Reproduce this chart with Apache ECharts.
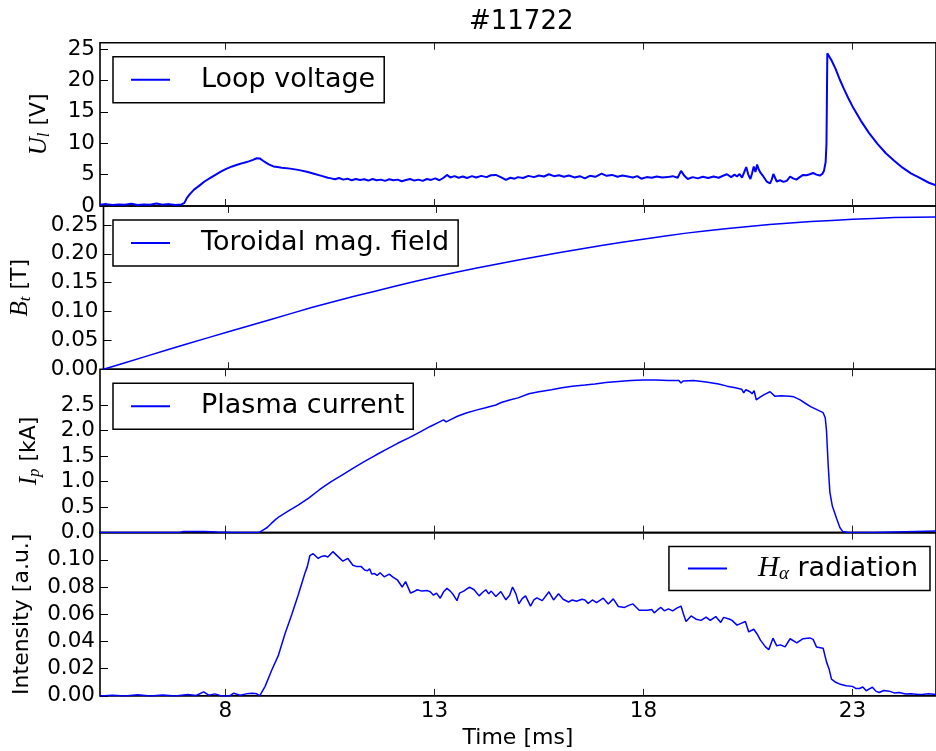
<!DOCTYPE html>
<html>
<head>
<meta charset="utf-8">
<script src="https://cdn.jsdelivr.net/npm/echarts@6/dist/echarts.min.js"></script>
<style>html,body{margin:0;padding:0;background:#fff;}#chart{width:936px;height:751px;}</style>
</head>
<body>
<div id="chart"></div>
<script>
// ---------- data (time in ms, value) ----------
const xTicks = [8, 13, 18, 23];
const yTicksU = [0, 5, 10, 15, 20, 25];
const yTicksB = [0, 0.05, 0.10, 0.15, 0.20, 0.25];
const yTicksI = [0, 0.5, 1.0, 1.5, 2.0, 2.5];
const yTicksH = [0, 0.02, 0.04, 0.06, 0.08, 0.10];

const loopVoltage = [
[5.0,0.2],[5.15,0.3],[5.3,0.15],[5.45,0.25],[5.6,0.2],[5.75,0.35],[5.9,0.15],[6.05,0.25],[6.2,0.2],[6.35,0.4],
[6.5,0.2],[6.65,0.3],[6.8,0.15],[6.95,0.25],[7.02,0.5],[7.08,1.3],[7.15,1.9],[7.25,2.6],[7.37,3.2],[7.5,3.9],
[7.62,4.4],[7.77,5.0],[7.9,5.5],[8.02,5.9],[8.16,6.3],[8.3,6.6],[8.45,6.9],[8.56,7.1],[8.66,7.35],[8.75,7.6],[8.83,7.55],
[8.9,7.2],[8.97,6.9],[9.05,6.6],[9.15,6.3],[9.25,6.2],[9.35,6.1],[9.55,5.95],[9.74,5.75],[9.95,5.45],[10.14,5.1],
[10.3,4.8],[10.45,4.5],[10.53,4.4],[10.62,4.25],[10.72,4.45],[10.82,4.2],[10.92,4.35],[11.02,4.1],[11.12,4.3],[11.22,4.15],
[11.32,4.25],[11.42,4.05],[11.52,4.3],[11.62,4.1],[11.72,4.2],[11.82,4.0],[11.92,4.25],[12.02,4.1],[12.12,4.2],[12.22,3.95],
[12.32,4.15],[12.42,4.3],[12.52,4.05],[12.62,4.2],[12.72,4.0],[12.82,4.3],[12.92,4.15],[13.02,4.4],[13.12,4.1],[13.22,4.5],
[13.3,4.95],[13.38,4.55],[13.48,4.75],[13.58,4.5],[13.68,4.7],[13.78,4.45],[13.9,4.75],[14.0,4.55],[14.12,4.8],[14.25,4.6],
[14.35,4.9],[14.47,4.95],[14.6,4.55],[14.71,4.15],[14.82,4.5],[14.92,4.35],[15.0,4.6],[15.12,4.45],[15.25,4.8],[15.38,4.6],
[15.5,4.85],[15.62,4.7],[15.74,5.05],[15.86,4.75],[15.98,4.9],[16.1,4.65],[16.22,4.85],[16.35,4.55],[16.48,4.75],[16.6,4.4],
[16.72,4.8],[16.85,4.65],[17.0,5.15],[17.12,4.8],[17.25,4.95],[17.38,4.65],[17.5,4.85],[17.63,4.7],[17.75,4.55],[17.85,4.75],
[17.95,4.35],[18.08,4.6],[18.2,4.5],[18.32,4.7],[18.45,4.55],[18.58,4.6],[18.7,4.75],[18.82,4.5],[18.9,5.6],[18.98,4.8],
[19.06,4.3],[19.18,4.6],[19.3,4.4],[19.42,4.65],[19.55,4.45],[19.68,4.7],[19.8,4.5],[19.92,4.85],[20.0,5.05],[20.1,4.6],
[20.18,5.0],[20.24,4.7],[20.3,5.1],[20.36,4.5],[20.4,4.2],[20.46,6.2],[20.51,5.0],[20.56,4.3],[20.6,5.2],[20.64,6.3],
[20.68,5.4],[20.72,6.6],[20.76,5.8],[20.8,5.3],[20.87,4.7],[20.95,3.9],[21.03,3.6],[21.07,4.2],[21.11,5.1],[21.15,4.5],
[21.19,3.9],[21.27,4.1],[21.35,3.85],[21.43,4.0],[21.51,4.7],[21.58,4.4],[21.66,4.2],[21.74,4.6],[21.82,4.95],[21.9,4.9],
[21.98,5.05],[22.06,5.25],[22.14,5.0],[22.22,4.85],[22.28,5.1],[22.32,5.6],[22.36,7.0],[22.38,9.9],[22.4,24.3],[22.42,24.2],
[22.5,23.2],[22.6,21.8],[22.7,20.1],[22.8,18.6],[22.9,17.2],[23.0,15.9],[23.2,13.6],[23.4,11.6],[23.6,9.9],[23.8,8.4],
[24.0,7.2],[24.2,6.1],[24.4,5.2],[24.6,4.5],[24.83,3.7],[25.0,3.3]
];

const toroidalField = [
[5,0],[5.5,0.011],[6,0.022],[6.5,0.033],[7,0.044],[7.5,0.0545],[8,0.065],[8.5,0.0755],[9,0.086],[9.5,0.0965],
[10,0.107],[10.5,0.1165],[11,0.126],[11.5,0.135],[12,0.144],[12.5,0.1525],[13,0.161],[13.5,0.1685],[14,0.176],[14.5,0.183],
[15,0.190],[15.5,0.1965],[16,0.203],[16.5,0.209],[17,0.215],[17.5,0.2205],[18,0.226],[18.5,0.231],[19,0.236],[19.5,0.240],
[20,0.244],[20.5,0.2475],[21,0.251],[21.5,0.2535],[22,0.256],[22.5,0.258],[23,0.260],[23.5,0.2615],[24,0.263],[24.5,0.2635],[25,0.264]
];

const plasmaCurrent = [
[5.0,0],[6.9,0],[7.0,0.02],[7.5,0.02],[7.8,0.01],[8.2,0],[8.8,0],[8.9,0.05],[9.0,0.1],[9.1,0.18],
[9.19,0.25],[9.3,0.32],[9.5,0.42],[9.74,0.54],[10.0,0.68],[10.25,0.84],[10.53,1.0],[10.8,1.13],[11.05,1.26],[11.32,1.39],
[11.6,1.52],[11.85,1.63],[12.12,1.75],[12.4,1.86],[12.65,1.97],[12.9,2.08],[13.1,2.16],[13.22,2.21],[13.28,2.17],[13.4,2.22],
[13.55,2.28],[13.78,2.35],[14.0,2.40],[14.2,2.44],[14.47,2.5],[14.6,2.55],[14.8,2.6],[15.0,2.64],[15.26,2.72],[15.5,2.76],
[15.8,2.8],[16.05,2.84],[16.3,2.87],[16.6,2.89],[16.84,2.91],[17.1,2.94],[17.4,2.96],[17.7,2.98],[18.0,2.99],[18.3,2.99],
[18.6,2.98],[18.85,2.98],[18.9,2.93],[18.95,2.97],[19.2,2.98],[19.5,2.95],[19.8,2.91],[20.0,2.87],[20.2,2.84],[20.35,2.81],
[20.4,2.74],[20.45,2.8],[20.55,2.76],[20.6,2.72],[20.65,2.78],[20.7,2.6],[20.8,2.66],[20.9,2.71],[21.03,2.76],[21.15,2.67],
[21.3,2.68],[21.5,2.67],[21.6,2.66],[21.75,2.6],[21.9,2.52],[22.0,2.47],[22.15,2.41],[22.3,2.35],[22.35,2.25],[22.38,2.0],
[22.42,1.33],[22.46,0.8],[22.52,0.52],[22.62,0.28],[22.7,0.1],[22.77,0.02],[22.9,0],[23.5,0],[24.0,0.01],[24.5,0.02],[25.0,0.03]
];

const hAlpha = [
[5.0,0],[5.3,0.0005],[5.6,0],[5.9,0.0008],[6.2,0],[6.5,0.0006],[6.8,0],[7.1,0.001],[7.3,0.0003],[7.48,0.003],
[7.6,0.0005],[7.75,0.0015],[7.9,0],[8.1,0],[8.2,0.002],[8.35,0.0005],[8.5,0.0015],[8.65,0.002],[8.75,0.0015],[8.82,0],
[8.95,0.007],[9.11,0.019],[9.27,0.030],[9.43,0.046],[9.59,0.060],[9.74,0.074],[9.9,0.090],[9.96,0.095],[10.02,0.103],[10.1,0.1045],
[10.22,0.101],[10.3,0.1025],[10.38,0.103],[10.45,0.102],[10.57,0.106],[10.69,0.1025],[10.81,0.099],[10.93,0.101],[11.05,0.096],[11.15,0.095],
[11.25,0.095],[11.33,0.0925],[11.4,0.092],[11.45,0.0935],[11.5,0.0895],[11.56,0.090],[11.63,0.0885],[11.7,0.0905],[11.8,0.0875],[11.92,0.0895],
[12.0,0.0875],[12.12,0.085],[12.23,0.080],[12.31,0.084],[12.43,0.0755],[12.5,0.0765],[12.59,0.078],[12.7,0.077],[12.83,0.0774],[12.9,0.0765],
[12.98,0.074],[13.05,0.0755],[13.14,0.0718],[13.22,0.0765],[13.3,0.079],[13.38,0.077],[13.45,0.0745],[13.54,0.070],[13.6,0.0755],[13.7,0.077],
[13.84,0.080],[13.95,0.078],[14.07,0.0735],[14.15,0.076],[14.23,0.078],[14.3,0.075],[14.36,0.077],[14.47,0.073],[14.59,0.0767],[14.71,0.0706],
[14.8,0.074],[14.87,0.080],[14.95,0.075],[15.02,0.0676],[15.1,0.0715],[15.18,0.0735],[15.3,0.066],[15.38,0.0705],[15.45,0.072],[15.58,0.070],
[15.74,0.0765],[15.85,0.0705],[15.97,0.075],[16.08,0.071],[16.21,0.069],[16.3,0.0705],[16.4,0.0695],[16.53,0.071],[16.6,0.0705],[16.68,0.068],
[16.78,0.0705],[16.88,0.0685],[17.04,0.0718],[17.16,0.0676],[17.28,0.0713],[17.4,0.0657],[17.55,0.065],[17.65,0.0665],[17.75,0.0676],[17.9,0.063],
[18.1,0.063],[18.2,0.0635],[18.26,0.061],[18.35,0.0635],[18.42,0.065],[18.5,0.0625],[18.6,0.064],[18.7,0.0625],[18.8,0.0645],[18.9,0.066],
[18.96,0.060],[19.02,0.0547],[19.14,0.0588],[19.26,0.0564],[19.38,0.0555],[19.5,0.0579],[19.6,0.0555],[19.73,0.0583],[19.85,0.054],[19.92,0.0577],
[20.05,0.0565],[20.12,0.0555],[20.24,0.052],[20.35,0.0535],[20.44,0.0547],[20.52,0.047],[20.64,0.049],[20.72,0.0455],[20.8,0.041],[20.92,0.036],
[21.0,0.034],[21.1,0.0424],[21.19,0.0368],[21.28,0.0375],[21.39,0.036],[21.51,0.042],[21.67,0.039],[21.82,0.042],[21.98,0.0426],[22.06,0.0415],
[22.14,0.036],[22.3,0.035],[22.38,0.025],[22.44,0.020],[22.5,0.0123],[22.6,0.010],[22.69,0.0088],[22.85,0.0074],[23.0,0.007],[23.08,0.0055],
[23.17,0.0054],[23.25,0.0065],[23.33,0.0038],[23.48,0.0064],[23.56,0.0035],[23.64,0.0025],[23.75,0.004],[23.88,0.0035],[24.0,0.0022],[24.12,0.0025],
[24.27,0.0014],[24.4,0.0015],[24.59,0.001],[24.7,0.0012],[24.83,0.0015],[25.0,0.001]
];

// ---------- layout / style ----------
const FONT = 'DejaVu Sans';
const SERIF = 'Liberation Serif';
const BLUE = '#0000ff';
const GRID_LEFT = 100, GRID_W = 843.2, GRID_TOP = 42.7, GRID_H = 163.3;
const X_MIN = 5, X_MAX = 25;

const chart = echarts.init(document.getElementById('chart'), null, {renderer: 'canvas'});

const panels = [
  {name: 'Loop voltage', data: loopVoltage, ymax: 26, ticks: yTicksU, fmt: v => String(Math.round(v)),
   axisName: '{i|U}{s|l}{n| [V]}', gap: 47, lw: 2},
  {name: 'Toroidal mag. field', data: toroidalField, ymax: 0.283, ticks: yTicksB, fmt: v => v.toFixed(2),
   axisName: '{i|B}{s|t}{n| [T]}', gap: 69, lw: 1.5},
  {name: 'Plasma current', data: plasmaCurrent, ymax: 3.2, ticks: yTicksI, fmt: v => v.toFixed(1),
   axisName: '{i|I}{s|p}{n| [kA]}', gap: 57, lw: 1.5},
  {name: 'Ha', data: hAlpha, ymax: 0.12, ticks: yTicksH, fmt: v => v.toFixed(2),
   axisName: 'Intensity [a.u.]', gap: 67, lw: 1.5}
];

const nameRich = {
  i: {fontFamily: SERIF, fontStyle: 'italic', fontSize: 25, color: '#000', lineHeight: 28},
  s: {fontFamily: SERIF, fontStyle: 'italic', fontSize: 17, color: '#000', lineHeight: 17, verticalAlign: 'bottom'},
  n: {fontFamily: FONT, fontSize: 22, color: '#000', lineHeight: 28}
};

const grids = [], xAxes = [], yAxes = [], series = [], legends = [];
panels.forEach((p, i) => {
  grids.push({left: GRID_LEFT, width: GRID_W, top: GRID_TOP + i * GRID_H, height: GRID_H,
    show: true, borderColor: '#000', borderWidth: 1.6, backgroundColor: 'transparent'});
  const isLast = i === panels.length - 1;
  ['bottom', 'top'].forEach(pos => {
    xAxes.push({
      type: 'value', gridIndex: i, position: pos, min: X_MIN, max: X_MAX,
      axisLine: {show: false}, splitLine: {show: false},
      axisTick: {show: true, inside: true, length: 7, customValues: xTicks, lineStyle: {color: '#222', width: 1}},
      axisLabel: {show: isLast && pos === 'bottom', customValues: xTicks, margin: 5,
        fontFamily: FONT, fontSize: 21.5, color: '#000'},
      name: (isLast && pos === 'bottom') ? 'Time [ms]' : '',
      nameLocation: 'middle', nameGap: 31,
      nameTextStyle: {fontFamily: FONT, fontSize: 22, color: '#000'}
    });
  });
  yAxes.push({
    type: 'value', gridIndex: i, min: 0, max: p.ymax,
    axisLine: {show: false}, splitLine: {show: false},
    axisTick: {show: true, inside: true, length: 8, customValues: p.ticks, lineStyle: {color: '#000', width: 1}},
    axisLabel: {customValues: p.ticks, formatter: p.fmt, margin: 5, fontFamily: FONT, fontSize: 21.5, color: '#000'},
    name: p.axisName, nameLocation: 'middle', nameRotate: 90, nameGap: p.gap,
    nameTextStyle: {fontFamily: FONT, fontSize: 22, color: '#000', rich: nameRich}
  });
  series.push({
    name: p.name, type: 'line', xAxisIndex: i * 2, yAxisIndex: i, data: p.data,
    showSymbol: false, symbol: 'none', smooth: false, z: 10,
    lineStyle: {color: BLUE, width: p.lw}, itemStyle: {color: BLUE}
  });
  const lg = {
    data: [p.name], top: GRID_TOP + i * GRID_H + 14, orient: 'horizontal',
    selectedMode: false, icon: 'rect', itemWidth: 39, itemHeight: 2,
    backgroundColor: '#fff', borderColor: '#000', borderWidth: 1.5, borderRadius: 0,
    padding: [9, 9, 9, 18], z: 20,
    textStyle: {fontFamily: FONT, fontSize: 27, color: '#000', lineHeight: 28, padding: [0, 0, 0, 26],
      rich: {
        i: {fontFamily: SERIF, fontStyle: 'italic', fontSize: 29, color: '#000', lineHeight: 30, padding: [0, 0, 0, 26]},
        s: {fontFamily: SERIF, fontStyle: 'italic', fontSize: 19, color: '#000', lineHeight: 18, verticalAlign: 'bottom'},
        n: {fontFamily: FONT, fontSize: 27, color: '#000', lineHeight: 30}
      }}
  };
  if (isLast) {
    lg.right = 6;
    lg.padding = [7, 12, 7, 19];
    lg.textStyle.padding = 0;
    lg.formatter = () => '{i|H}{s|α}{n| radiation}';
  } else {
    lg.left = 113;
  }
  legends.push(lg);
});

chart.setOption({
  animation: false,
  backgroundColor: '#fff',
  title: {text: '#11722', left: 469, top: 9, padding: 0,
    textStyle: {fontFamily: FONT, fontSize: 26, fontWeight: 'normal', color: '#000'}},
  grid: grids,
  xAxis: xAxes,
  yAxis: yAxes,
  legend: legends,
  series: series
});
</script>
</body>
</html>
